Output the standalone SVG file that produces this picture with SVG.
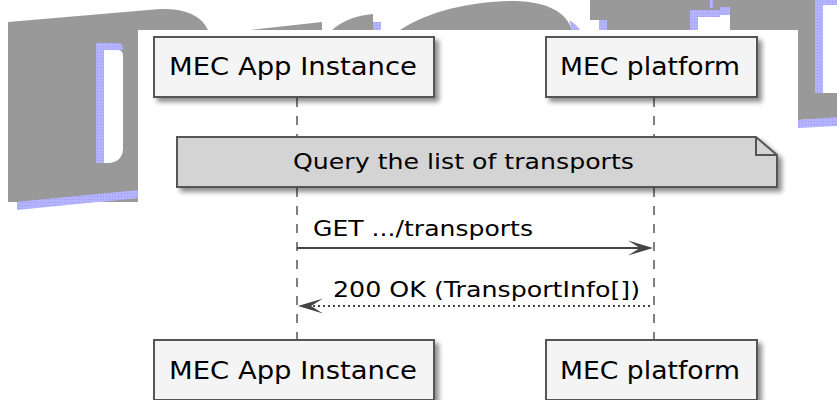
<svg xmlns="http://www.w3.org/2000/svg" width="837" height="400" viewBox="0 0 837 400">
<defs>
<pattern id="dots" width="3" height="3" patternUnits="userSpaceOnUse">
<rect width="3" height="3" fill="#b3b3ff"/>
<rect x="1" y="1" width="1" height="1" fill="#9a9af2"/>
</pattern>
<filter id="sh" x="-10%" y="-20%" width="130%" height="160%">
<feGaussianBlur in="SourceAlpha" stdDeviation="2.5"/>
<feOffset dx="4" dy="4" result="b"/>
<feComponentTransfer in="b" result="c"><feFuncA type="linear" slope="0.45"/></feComponentTransfer>
<feMerge><feMergeNode in="c"/><feMergeNode in="SourceGraphic"/></feMerge>
</filter>
<style>
.wm{fill:#999999}
.bl{fill:url(#dots)}
.part{fill:#f4f4f4;stroke:#555555;stroke-width:2}
.note{fill:#d4d4d4;stroke:#555555;stroke-width:2}
.lbl{font-family:"DejaVu Sans","Liberation Sans",sans-serif;fill:#000000}
.pt{font-size:25px}
.mt{font-size:22px}
.life{stroke:#555555;stroke-width:1.5;stroke-dasharray:9,9;fill:none}
.msg{stroke:#444444;stroke-width:2;fill:none}
.ret{stroke:#444444;stroke-width:2;stroke-dasharray:2,3;fill:none}
.head{fill:#444444}
</style>
</defs>
<g id="watermark">
<!-- D -->
<path class="wm" d="M8,22 L160,9 Q198,8 208,30 L208,400 L8,400 Z"/>
<path class="bl" d="M17,202 L138,190 L138,198 L17,210 Z"/>
<rect x="0" y="202" width="138" height="198" fill="#ffffff"/>
<path class="bl" d="M17,202 L138,190 L138,198 L17,210 Z"/>
<path class="wm" d="M8,22 L8,202 L138,190 L138,30 Z"/>
<path class="bl" d="M96,43 L118,43 Q123,43 123,50 L104,50 L104,163 L96,163 Z"/>
<path d="M104,50 L118,50 Q123,50 123,56 L123,148 Q123,161 110,163 L104,163 Z" fill="#ffffff"/>
<!-- r -->
<path class="wm" d="M250,30 L322,22 L322,30 Z"/>
<path class="wm" d="M332,30 Q348,16 373,14 L373,30 Z"/>
<rect class="bl" x="373" y="22" width="8" height="8"/>
<!-- a -->
<path class="wm" d="M400,30 C430,10 475,1 515,1 C548,2 566,12 572,30 Z"/>
<path class="bl" d="M569,20 Q576,24 580,30 L572,30 Z"/>
<!-- f / t -->
<path class="wm" d="M590,0 L837,0 L837,5 L823,5 L823,93 L837,93 L837,118 L798,120 L798,30 L730,30 L730,10 L720,10 L720,17 L698,17 L698,30 L607,30 L607,20 L590,20 Z"/>
<rect class="bl" x="599" y="20" width="8" height="10"/>
<path class="bl" d="M690,10 L720,10 L720,7 L730,7 L730,15 L720,15 L720,17 L698,17 L698,30 L690,30 Z"/>
<rect class="bl" x="710" y="0" width="3" height="8"/>
<path class="bl" d="M815,0 L837,0 L837,5 L823,5 L823,93 L815,93 Z"/>
<path class="bl" d="M798,120 L837,117 L837,126 L798,128 Z"/>
</g>
<rect id="panel" x="138" y="30" width="660" height="370" fill="#ffffff"/>
<g id="connectors">
<line class="life" x1="297" y1="98" x2="297" y2="340"/>
<line class="life" x1="654" y1="98" x2="654" y2="340"/>
<line class="msg" x1="297" y1="248" x2="648" y2="248"/>
<polygon class="head" points="653,248 628,240.5 640,248 628,255.5"/>
<line class="ret" x1="303" y1="306" x2="652" y2="306"/>
<polygon class="head" points="298,306 323,298.5 311,306 323,313.5"/>
<text class="lbl mt" x="313" y="236" textLength="220" lengthAdjust="spacingAndGlyphs">GET .../transports</text>
<text class="lbl mt" x="333" y="297" textLength="307" lengthAdjust="spacingAndGlyphs">200 OK (TransportInfo[])</text>
</g>
<g id="app_top">
<rect class="part" x="154" y="37" width="280" height="60" filter="url(#sh)"/>
<text class="lbl pt" x="169" y="75" textLength="248" lengthAdjust="spacingAndGlyphs">MEC App Instance</text>
</g>
<g id="platform_top">
<rect class="part" x="546" y="37" width="211" height="60" filter="url(#sh)"/>
<text class="lbl pt" x="560" y="75" textLength="180" lengthAdjust="spacingAndGlyphs">MEC platform</text>
</g>
<g id="note">
<path class="note" d="M177,137 L756,137 L777,155 L777,187 L177,187 Z" filter="url(#sh)"/>
<path d="M756,137 L756,155 L777,155" fill="none" stroke="#555555" stroke-width="2"/>
<text class="lbl mt" x="293" y="169" textLength="341" lengthAdjust="spacingAndGlyphs">Query the list of transports</text>
</g>
<g id="app_bottom">
<rect class="part" x="154" y="340" width="280" height="60" filter="url(#sh)"/>
<text class="lbl pt" x="169" y="379" textLength="248" lengthAdjust="spacingAndGlyphs">MEC App Instance</text>
</g>
<g id="platform_bottom">
<rect class="part" x="546" y="340" width="211" height="60" filter="url(#sh)"/>
<text class="lbl pt" x="560" y="379" textLength="180" lengthAdjust="spacingAndGlyphs">MEC platform</text>
</g>
</svg>
